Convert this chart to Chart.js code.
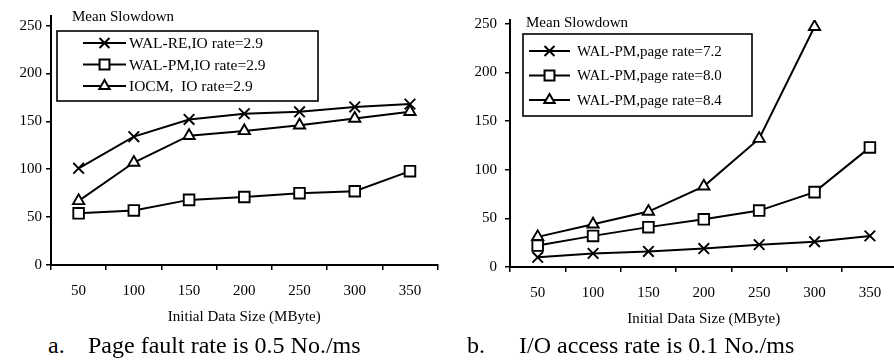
<!DOCTYPE html>
<html>
<head>
<meta charset="utf-8">
<script src="https://cdn.jsdelivr.net/npm/chart.js@4"></script>
<style>
  body { margin: 0; width: 894px; height: 361px; overflow: hidden; background: #fff; position: relative; }
  .wrap { position: absolute; top: 0; }
  .cap { position: absolute; top: 333px; font: 24px "Liberation Serif", "Times New Roman", serif; line-height: 24px; color: #000; white-space: pre; }
</style>
</head>
<body>
<div class="wrap" style="left:0;width:447px;height:332px"><canvas id="chartA"></canvas></div>
<div class="wrap" style="left:447px;width:460px;height:334px"><canvas id="chartB"></canvas></div>
<div class="cap" style="left:48px">a.</div>
<div class="cap" style="left:88px">Page fault rate is 0.5 No./ms</div>
<div class="cap" style="left:467px">b.</div>
<div class="cap" style="left:519px">I/O access rate is 0.1 No./ms</div>
<script>
// data
const sizes = ['50', '100', '150', '200', '250', '300', '350'];
const yTicks = [0, 50, 100, 150, 200, 250];

// a. page fault rate 0.5
const walRE = [101, 134, 152, 158, 160, 165, 168];
const walPM = [54, 57, 68, 71, 75, 77, 98];
const iocm = [67, 107, 135, 140, 146, 153, 160];

// b. I/O access rate 0.1
const page72 = [10, 14, 16, 19, 23, 26, 32];
const page80 = [22, 32, 41, 49, 58, 77, 123];
const page84 = [31, 44, 57, 83, 132, 247, null];

const serif = '"Liberation Serif", "Times New Roman", serif';
const radius = { crossRot: 7.5, rect: 7.5, triangle: 6.5 };

function serie(label, data, style) {
    return {
        label: label,
        data: data,
        borderColor: '#000',
        borderWidth: 2,
        pointStyle: style,
        pointRadius: radius[style],
        pointHoverRadius: radius[style],
        pointBackgroundColor: '#fff',
        pointBorderColor: '#000',
        pointBorderWidth: 1.9,
        tension: 0,
        spanGaps: false
    };
}

// legend box + "Mean Slowdown" label drawn on the canvas
const boxLegend = {
    id: 'boxLegend',
    afterDraw(chart, args, o) {
        const ctx = chart.ctx;
        ctx.save();
        ctx.fillStyle = '#000';
        ctx.textBaseline = 'middle';
        ctx.font = '15px ' + serif;
        ctx.fillText('Mean Slowdown', o.titleX, o.titleY);
        ctx.fillStyle = '#fff';
        ctx.fillRect(o.x, o.y, o.w, o.h);
        ctx.lineWidth = 1.6;
        ctx.strokeStyle = '#000';
        ctx.strokeRect(o.x, o.y, o.w, o.h);
        ctx.font = o.fontSize + 'px ' + serif;
        chart.data.datasets.forEach((ds, i) => {
            const y = o.rowY + i * o.gap;
            ctx.lineWidth = 2;
            ctx.beginPath();
            ctx.moveTo(o.lx0, y);
            ctx.lineTo(o.lx1, y);
            ctx.stroke();
            ctx.fillStyle = '#fff';
            Chart.helpers.drawPoint(ctx, { pointStyle: ds.pointStyle, radius: ds.pointRadius - 0.5, rotation: 0, borderWidth: 1.9 }, (o.lx0 + o.lx1) / 2, y);
            ctx.fillStyle = '#000';
            ctx.fillText(ds.label, o.tx, y + 1);
        });
        ctx.restore();
    }
};

function makeChart(id, datasets, yMax, yWidth, tickPad, padTop, legendOpts) {
    return new Chart(document.getElementById(id), {
        type: 'line',
        data: { labels: sizes, datasets: datasets },
        options: {
            responsive: true,
            maintainAspectRatio: false,
            animation: false,
            events: [],
            layout: { padding: { top: padTop, right: 4, bottom: 0, left: 0 } },
            plugins: {
                legend: { display: false },
                tooltip: { enabled: false },
                boxLegend: legendOpts
            },
            scales: {
                x: {
                    offset: true,
                    afterFit: s => { s.height = 67; },
                    grid: { offset: true, drawOnChartArea: false, color: '#000', lineWidth: 1.5, tickLength: 5 },
                    border: { display: true, color: '#000', width: 2 },
                    ticks: { color: '#000', padding: 12, maxRotation: 0, font: { family: serif, size: 15 } },
                    title: { display: true, text: 'Initial Data Size (MByte)', color: '#000', padding: { top: 0, bottom: 6 }, font: { family: serif, size: 15 } }
                },
                y: {
                    min: 0,
                    max: yMax,
                    afterBuildTicks: s => { s.ticks = yTicks.map(v => ({ value: v })); },
                    afterFit: s => { s.width = yWidth; },
                    grid: { drawOnChartArea: false, color: '#000', lineWidth: 1.5, tickLength: 5 },
                    border: { display: true, color: '#000', width: 2 },
                    ticks: { color: '#000', padding: tickPad, font: { family: serif, size: 15 } }
                }
            }
        },
        plugins: [boxLegend]
    });
}

makeChart('chartA', [
    serie('WAL-RE,IO rate=2.9', walRE, 'crossRot'),
    serie('WAL-PM,IO rate=2.9', walPM, 'rect'),
    serie('IOCM,  IO rate=2.9', iocm, 'triangle')
], 260, 51, 4, 16, {
    titleX: 72, titleY: 17, fontSize: 15.5,
    x: 57, y: 31, w: 261, h: 70,
    rowY: 43, gap: 21.5, lx0: 83, lx1: 126, tx: 129
});

makeChart('chartB', [
    serie('WAL-PM,page rate=7.2', page72, 'crossRot'),
    serie('WAL-PM,page rate=8.0', page80, 'rect'),
    serie('WAL-PM,page rate=8.4', page84, 'triangle')
], 254, 63, 8, 20, {
    titleX: 79, titleY: 23, fontSize: 15,
    x: 76, y: 34, w: 229, h: 82,
    rowY: 51, gap: 24.5, lx0: 82, lx1: 123, tx: 130
});
</script>
</body>
</html>
